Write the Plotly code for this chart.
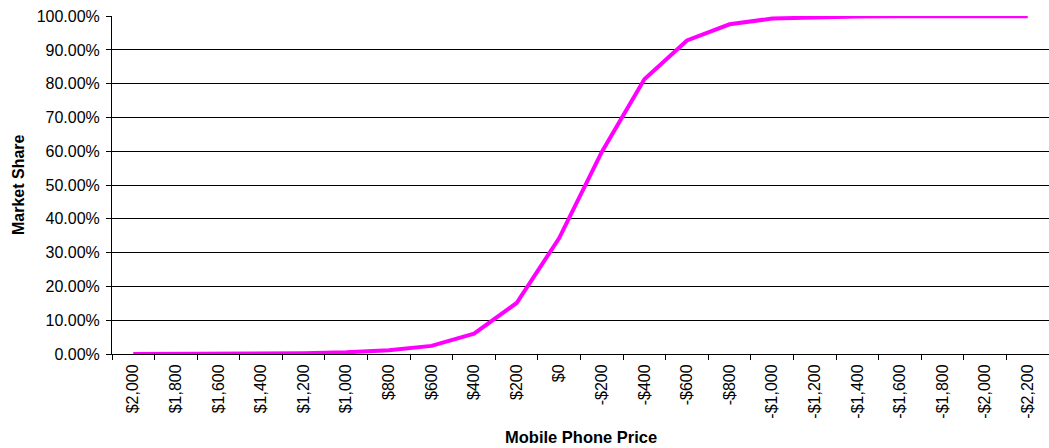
import plotly.graph_objects as go

prices = ["$2,000", "$1,800", "$1,600", "$1,400", "$1,200", "$1,000", "$800", "$600",
          "$400", "$200", "$0", "-$200", "-$400", "-$600", "-$800", "-$1,000",
          "-$1,200", "-$1,400", "-$1,600", "-$1,800", "-$2,000", "-$2,200"]
market_share = [0.000, 0.000, 0.000, 0.001, 0.002, 0.005, 0.011, 0.024,
                 0.060, 0.151, 0.343, 0.598, 0.813, 0.928, 0.976, 0.993,
                 0.997, 0.999, 1.000, 1.000, 1.000, 1.000]

FONT = "Liberation Sans, Arial, sans-serif"

fig = go.Figure()
fig.add_trace(go.Scatter(
    x=prices, y=market_share, mode="lines",
    line=dict(color="#FF00FF", width=4),
    showlegend=False,
))

fig.update_layout(
    width=1049, height=448,
    margin=dict(l=112, r=0, t=16, b=94),
    paper_bgcolor="white", plot_bgcolor="white",
    font=dict(family=FONT, size=16, color="black"),
    xaxis=dict(
        type="category", tickangle=-90, tickson="boundaries",
        range=[-0.5, len(prices) - 0.5],
        ticks="outside", ticklen=5, tickcolor="black", tickwidth=1,
        showline=True, linecolor="black", linewidth=1,
        showgrid=False, tickfont=dict(size=16), ticklabelstandoff=3,
    ),
    yaxis=dict(
        range=[0, 1.0005], dtick=0.1, tickformat=".2%",
        ticks="outside", ticklen=5, tickcolor="black", tickwidth=1,
        showline=True, linecolor="black", linewidth=1,
        showgrid=True, gridcolor="black", gridwidth=1,
        zeroline=False, tickfont=dict(size=16), ticklabelstandoff=3,
    ),
    annotations=[
        dict(text="<b>Market Share</b>", xref="paper", yref="paper",
             x=(18 - 112) / 937, y=0.5, xanchor="center", yanchor="middle",
             textangle=-90, showarrow=False, font=dict(size=16)),
        dict(text="<b>Mobile Phone Price</b>", xref="paper", yref="paper",
             x=0.5, y=(448 - 94 - 437) / 338, xanchor="center", yanchor="middle",
             showarrow=False, font=dict(size=16.5)),
    ],
)

fig.write_html("out.html")
